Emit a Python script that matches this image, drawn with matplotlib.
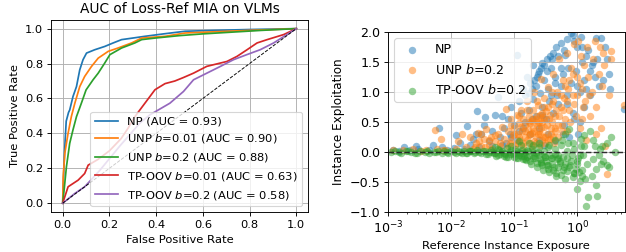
import matplotlib
matplotlib.use('Agg')
import matplotlib.pyplot as plt

"""
ROC curves of the Loss-Ref MIA (left) and exploitation vs exposure scatter (right)
Values are read off the original figure
"""

# ---- ROC curves (FPR, TPR) ----
np_fpr = [0.0, 0.003, 0.005, 0.01, 0.015, 0.025, 0.03, 0.044, 0.059, 0.073, 0.087, 0.102, 0.137,
          0.18, 0.216, 0.252, 0.352, 0.438, 0.524, 0.65, 0.8, 1.0]
np_tpr = [0.0, 0.12, 0.2, 0.35, 0.47, 0.52, 0.534, 0.611, 0.668, 0.764, 0.822, 0.86, 0.879,
          0.898, 0.918, 0.937, 0.956, 0.971, 0.985, 0.99, 0.995, 1.0]

unp01_fpr = [0.0, 0.002, 0.009, 0.023, 0.037, 0.052, 0.073, 0.094, 0.123, 0.152, 0.195, 0.237,
             0.295, 0.338, 0.438, 0.524, 0.65, 0.8, 1.0]
unp01_tpr = [0.0, 0.15, 0.285, 0.40, 0.496, 0.573, 0.668, 0.726, 0.783, 0.831, 0.87, 0.889,
             0.918, 0.946, 0.956, 0.975, 0.982, 0.99, 1.0]

unp02_fpr = [0.0, 0.006, 0.016, 0.03, 0.044, 0.059, 0.08, 0.1, 0.13, 0.152, 0.18, 0.202, 0.252,
             0.309, 0.338, 0.395, 0.5, 0.6, 0.7, 0.85, 1.0]
unp02_tpr = [0.0, 0.075, 0.209, 0.343, 0.42, 0.496, 0.573, 0.649, 0.707, 0.745, 0.803, 0.851,
             0.889, 0.918, 0.937, 0.946, 0.96, 0.97, 0.978, 0.99, 1.0]

oov01_fpr = [0.0, 0.023, 0.066, 0.094, 0.109, 0.15, 0.2, 0.25, 0.28, 0.309, 0.352, 0.395, 0.438,
             0.48, 0.517, 0.56, 0.617, 0.703, 0.746, 0.789, 0.832, 0.875, 0.946, 1.0]
oov01_tpr = [0.0, 0.094, 0.132, 0.17, 0.218, 0.25, 0.30, 0.37, 0.43, 0.496, 0.573, 0.65, 0.685,
             0.70, 0.72, 0.745, 0.784, 0.812, 0.841, 0.879, 0.918, 0.937, 0.966, 1.0]

oov02_fpr = [0.0, 0.052, 0.094, 0.16, 0.246, 0.331, 0.373, 0.459, 0.517, 0.56, 0.617, 0.674,
             0.731, 0.788, 0.845, 0.903, 0.96, 1.0]
oov02_tpr = [0.0, 0.056, 0.094, 0.19, 0.33, 0.46, 0.506, 0.573, 0.64, 0.707, 0.745, 0.783,
             0.822, 0.851, 0.879, 0.918, 0.966, 1.0]

roc_labels = ['NP (AUC = 0.93)', 'UNP $b$=0.01 (AUC = 0.90)', 'UNP $b$=0.2 (AUC = 0.88)',
              'TP-OOV $b$=0.01 (AUC = 0.63)', 'TP-OOV $b$=0.2 (AUC = 0.58)']
roc_colors = ['tab:blue', 'tab:orange', 'tab:green', 'tab:red', 'tab:purple']

# ---- exposure vs exploitation ----
np_x = [0.0012, 0.0015, 0.0018, 0.0022, 0.0028, 0.003, 0.0045, 0.0052, 0.0065, 0.0072, 0.0085,
        0.011, 0.012, 0.014, 0.016, 0.018, 0.02, 0.022, 0.026, 0.028, 0.03, 0.035, 0.04, 0.045,
        0.05, 0.055, 0.06, 0.065, 0.07, 0.075, 0.08, 0.085, 0.09, 0.1, 0.11, 0.11, 0.12, 0.12,
        0.13, 0.14, 0.15, 0.15, 0.16, 0.17, 0.18, 0.18, 0.2, 0.2, 0.22, 0.22, 0.24, 0.25, 0.26,
        0.28, 0.28, 0.3, 0.32, 0.33, 0.35, 0.36, 0.38, 0.4, 0.42, 0.45, 0.48, 0.5, 0.55, 0.6,
        0.62, 0.65, 0.7, 0.72, 0.8, 0.85, 0.9, 0.95, 1.0, 1.05, 1.1, 1.15, 1.2, 1.3, 1.4, 1.5,
        1.6, 1.8, 1.9, 2.0, 2.1, 2.4, 2.6, 3.0, 3.2, 3.3, 5.5, 1.3, 0.75, 0.3, 0.45, 0.6,
        0.17, 0.19, 0.21, 0.23, 0.25, 0.27, 0.3, 0.33, 0.37, 0.42,
        0.47, 0.55, 0.62, 0.7, 0.8, 0.9, 1.2, 1.4, 1.7, 2.2,
        2.8, 1.6, 1.0, 0.55, 0.45, 0.38, 0.28, 0.19, 0.14, 0.09,
        0.065, 0.045, 0.033, 0.025, 0.5, 0.7, 0.85, 1.1, 0.35, 0.25]
np_y = [0.03, 0.02, 0.08, 0.03, 0.10, 0.05, 0.03, 0.12, 0.40, 0.08, 0.04,
        0.06, 0.28, 0.15, 0.05, 0.44, 0.12, 0.22, 0.68, 0.08, 0.30, 0.58, 0.18, 0.35,
        0.62, 0.92, 0.25, 0.60, 0.40, 0.15, 0.55, 0.30, 0.75, 0.45, 1.62, 0.20, 0.85, 0.35,
        0.65, 1.05, 0.50, 0.95, 1.25, 0.70, 0.30, 1.15, 0.88, 1.45, 0.60, 1.10, 1.30, 0.40, 0.98,
        1.48, 0.75, 1.20, 0.55, 1.35, 1.05, 0.85, 1.40, 1.55, 0.65, 1.25, 0.95, 1.60, 1.10, 1.30,
        0.45, 1.62, 0.80, 1.40, 1.15, 1.95, 0.55, 1.35, 1.75, 0.30, 1.00, 1.92, 1.50, 1.20, 1.05, 1.70,
        1.35, 1.50, 1.25, 1.90, 1.55, 1.90, 1.20, 1.55, 1.30, 1.05, 0.72, 0.75, 0.25, 0.12, 0.18, 0.30,
        0.98, 1.05, 1.2, 1.25, 1.35, 1.4, 1.45, 1.55, 1.6, 1.65,
        1.75, 1.82, 1.7, 1.88, 1.98, 1.85, 1.75, 1.6, 1.45, 1.1,
        1.75, 0.95, 1.1, 1.4, 1.15, 0.95, 0.62, 0.55, 0.4, 0.25,
        0.12, 0.1, 0.45, 0.3, 0.8, 0.95, 0.65, 0.5, 0.3, 0.2]

unp_x = [0.0012, 0.0017, 0.0025, 0.0033, 0.004, 0.0055, 0.006, 0.007, 0.0075, 0.008, 0.012,
         0.013, 0.015, 0.017, 0.02, 0.022, 0.025, 0.027, 0.03, 0.033, 0.036, 0.04, 0.043, 0.045,
         0.05, 0.055, 0.06, 0.065, 0.07, 0.075, 0.08, 0.085, 0.09, 0.095, 0.1, 0.105, 0.11, 0.115,
         0.12, 0.125, 0.13, 0.135, 0.14, 0.15, 0.15, 0.16, 0.165, 0.17, 0.18, 0.18, 0.19, 0.2, 0.2,
         0.21, 0.22, 0.22, 0.23, 0.24, 0.25, 0.26, 0.27, 0.28, 0.28, 0.3, 0.3, 0.32, 0.33, 0.35,
         0.36, 0.38, 0.4, 0.42, 0.42, 0.45, 0.48, 0.5, 0.52, 0.55, 0.58, 0.6, 0.62, 0.65, 0.7,
         0.72, 0.75, 0.8, 0.85, 0.9, 0.95, 1.0, 1.05, 1.1, 1.15, 1.2, 1.3, 1.35, 1.4, 1.45, 1.5,
         1.6, 1.7, 1.9, 2.0, 2.2, 2.5, 2.8, 3.0, 3.2, 3.4, 5.6, 2.6, 1.25,
         0.14, 0.17, 0.21, 0.26, 0.31, 0.37, 0.44, 0.19, 0.24, 0.29,
         0.08, 0.09, 0.1, 0.11, 0.12, 0.13, 0.14, 0.15, 0.16, 0.17,
         0.18, 0.19, 0.2, 0.21, 0.22, 0.23, 0.24, 0.25, 0.26, 0.27,
         0.28, 0.29, 0.3, 0.31, 0.33, 0.34, 0.35, 0.37, 0.38, 0.4,
         0.42, 0.43, 0.45, 0.47, 0.5, 0.52, 0.55, 0.58, 0.6, 0.65,
         0.68, 0.7, 0.75, 0.78, 0.85, 0.9, 1.0, 1.1, 1.2, 0.06,
         0.05, 0.04, 0.035, 0.03, 0.028, 0.024, 0.12, 0.16, 0.09, 0.23,
         0.3, 0.4, 2.3, 2.7, 3.5, 1.8, 1.55, 2.0, 2.4]
unp_y = [0.04, 0.03, 0.05, 0.02, 0.04, 0.36, 0.05, 0.22, 0.03, 0.04, 0.05,
         0.18, 0.30, 0.08, 0.25, 0.05, 0.15, 0.32, 0.10, 0.22, 0.38, 0.12, 0.25, 0.05,
         0.18, 0.30, 0.10, 0.42, 0.22, 0.72, 0.35, 0.15, 0.55, 0.28, 0.40, 0.12, 0.62, 0.30,
         0.48, 0.20, 0.70, 0.35, 0.55, 0.25, 0.45, 0.85, 0.38, 0.60, 0.15, 0.48, 0.32, 0.70, 0.40,
         1.00, 0.55, 0.25, 0.45, 0.78, 0.35, 0.62, 1.22, 0.50, 0.20, 0.90, 0.42, 0.68, 0.30, 1.08,
         0.55, 0.40, 0.80, 1.30, 0.25, 0.60, 1.00, 0.45, 1.55, 0.75, 0.35, 1.20, 0.90, 0.55, 1.65,
         1.05, 0.70, 1.40, 0.95, 1.80, 0.60, 1.25, 1.85, 0.40, 1.60, 1.05, 1.45, 0.85, 0.20, 1.75, 1.25,
         0.60, 1.00, 1.85, 0.30, 1.30, 1.10, 0.10, -0.36, 0.95, 1.68, 0.78, 1.65, 0.75,
         0.15, 0.28, 0.18, 0.30, 0.25, 0.22, 0.35, 0.52, 0.48, 0.58,
         0.1, 0.2, 0.3, 0.15, 0.25, 0.42, 0.1, 0.35, 0.2, 0.5,
         0.3, 0.1, 0.55, 0.35, 0.15, 0.6, 0.3, 0.5, 0.12, 0.4,
         0.65, 0.25, 0.55, 0.15, 0.45, 0.75, 0.2, 0.62, 0.3, 0.5,
         0.85, 0.15, 0.4, 0.7, 0.25, 0.6, 0.95, 0.45, 0.7, 1.1,
         0.35, 0.85, 1.2, 0.5, 1.3, 0.8, 0.95, 1.15, 0.55, 0.15,
         0.28, 0.2, 0.08, 0.3, 0.18, 0.08, 0.6, 0.7, 0.45, 0.85,
         0.75, 1.0, 1.75, 1.45, 1.55, 1.55, 0.95, 0.75, 0.4]

oov_x = [0.0011, 0.0013, 0.0016, 0.0019, 0.0023, 0.0027, 0.0032, 0.0038, 0.0045, 0.0053, 0.0062,
         0.0072, 0.0085, 0.01, 0.012, 0.014, 0.016, 0.018, 0.02, 0.023, 0.026, 0.03, 0.034, 0.038,
         0.043, 0.048, 0.055, 0.06, 0.065, 0.07, 0.078, 0.085, 0.09, 0.1, 0.11, 0.12, 0.13, 0.14,
         0.15, 0.16, 0.17, 0.18, 0.19, 0.2, 0.22, 0.23, 0.25, 0.26, 0.28, 0.3, 0.32, 0.34, 0.36,
         0.38, 0.4, 0.42, 0.45, 0.48, 0.5, 0.55, 0.58, 0.6, 0.65, 0.7, 0.75, 0.8, 0.85, 0.9, 0.95,
         1.0, 1.05, 1.1, 1.15, 1.2, 1.25, 1.3, 1.4, 1.45, 1.5, 1.6, 1.7, 1.8, 2.0, 2.0, 2.1, 2.3,
         2.6, 3.0, 3.2, 3.4, 4.0, 1.15, 0.2, 0.12, 0.05,
         0.015, 0.021, 0.028, 0.036, 0.045, 0.052, 0.058, 0.068, 0.075, 0.082, 0.095, 0.105, 0.115,
         0.125, 0.135, 0.145, 0.155, 0.165, 0.21, 0.24, 0.27, 0.31, 0.35, 0.39, 0.44, 0.47, 0.53,
         0.62, 0.68, 0.78, 0.88, 0.98, 1.08, 1.35, 1.9, 2.4, 0.3, 0.5, 0.72,
         0.011, 0.013, 0.017, 0.019, 0.024, 0.032, 0.04, 0.05, 0.056, 0.063,
         0.072, 0.08, 0.088, 0.098, 0.108, 0.118, 0.128, 0.138, 0.148, 0.16,
         0.175, 0.185, 0.2, 0.215, 0.23, 0.25, 0.27, 0.29, 0.31, 0.33,
         0.36, 0.4, 0.43, 0.46, 0.5, 0.54, 0.6, 0.65, 0.7, 0.75,
         0.82, 0.9, 1.0, 1.1, 1.2, 0.25, 0.35, 0.45, 0.55, 0.65,
         0.85, 1.3, 1.8, 2.5, 3.0, 2.2, 0.0015, 0.0021, 0.0029, 0.0042,
         0.0058, 0.0078, 0.009]
oov_y = [0.0, 0.01, -0.01, 0.01, 0.0, -0.01, 0.01, 0.0, -0.01, 0.0, 0.01,
         -0.01, 0.0, 0.01, -0.01, 0.0, 0.02, -0.02, 0.01, -0.01, 0.03, -0.02, 0.02, -0.03,
         0.04, -0.02, 0.05, -0.04, 0.02, -0.06, 0.06, -0.03, 0.10, -0.08, 0.02, -0.05, 0.12, -0.12,
         0.0, -0.08, 0.15, -0.15, 0.05, -0.10, -0.02, -0.18, 0.08, -0.12, -0.22, 0.02, -0.15, -0.28, 0.12,
         -0.05, -0.20, -0.30, 0.05, -0.12, -0.25, -0.38, 0.20, -0.08, -0.20, -0.32, 0.38, -0.15, -0.42, 0.05, -0.28,
         -0.62, -0.10, -0.48, 0.22, -0.30, -0.05, 0.10, -0.90, -0.20, -0.75, 0.35, -0.40, -0.12, -0.28, -0.55, -0.73, 0.05,
         -0.15, 0.15, -0.25, 0.25, 0.0, 0.10, 0.12, 0.18, 0.08,
         -0.02, 0.02, 0.0, -0.04, 0.0, -0.06, 0.03, -0.02, -0.08, 0.0, -0.04, 0.05, -0.10,
         -0.02, 0.04, -0.06, -0.14, 0.02, -0.06, 0.0, -0.16, -0.08, -0.22, -0.10, -0.04, -0.35, -0.15,
         -0.25, 0.02, -0.22, -0.35, -0.15, -0.33, -0.45, 0.10, -0.20, -0.05, -0.10, 0.15,
         0.0, 0.02, -0.01, 0.01, 0.0, 0.01, 0.0, -0.01, -0.05, 0.0,
         -0.03, -0.08, 0.04, -0.02, -0.1, 0.0, -0.07, -0.02, -0.12, 0.03,
         -0.05, -0.2, 0.0, -0.1, -0.25, -0.05, -0.18, -0.3, -0.08, -0.22,
         -0.33, -0.1, -0.25, -0.4, -0.05, -0.18, -0.3, -0.45, -0.1, -0.25,
         -0.05, -0.35, -0.2, -0.05, -0.4, 0.15, 0.08, 0.2, 0.12, 0.3,
         0.15, 0.28, 0.2, 0.1, -0.22, -0.05, 0.0, 0.01, -0.01, 0.01,
         0.0, 0.01, -0.01]

scatter_labels = ['NP', 'UNP $b$=0.2', 'TP-OOV $b$=0.2']


def plot_roc(ax):
    """ Left panel: ROC curves with chance diagonal """
    curves = [(np_fpr, np_tpr), (unp01_fpr, unp01_tpr), (unp02_fpr, unp02_tpr),
              (oov01_fpr, oov01_tpr), (oov02_fpr, oov02_tpr)]
    for (fpr, tpr), lab, c in zip(curves, roc_labels, roc_colors):
        ax.plot(fpr, tpr, color=c, lw=1.5, label=lab)
    ax.plot([0, 1], [0, 1], 'k--', lw=0.8)
    ax.set_xticks([0, 0.2, 0.4, 0.6, 0.8, 1.0])
    ax.set_yticks([0, 0.2, 0.4, 0.6, 0.8, 1.0])
    ax.set(xlabel='False Positive Rate', ylabel='True Positive Rate',
           title='AUC of Loss-Ref MIA on VLMs')
    ax.grid(True)
    ax.legend(loc='lower right')


def plot_exposure(ax):
    """ Right panel: instance exploitation against reference exposure """
    # ticks and legend of the right panel are a bit larger than the left one
    fs = 11
    sets = [(np_x, np_y), (unp_x, unp_y), (oov_x, oov_y)]
    colors = ['tab:blue', 'tab:orange', 'tab:green']
    for (x, y), lab, c in zip(sets, scatter_labels, colors):
        ax.scatter(x, y, s=42, color=c, alpha=0.5, linewidths=0, label=lab)
    ax.axhline(0, color='k', ls='--', lw=1.3, alpha=0.75)
    ax.set_xscale('log')
    ax.set_xlim(1e-3, 5.7)
    ax.set_ylim(-1.0, 2.0)
    ax.set_xticks([1e-3, 1e-2, 1e-1, 1e0])
    ax.tick_params(labelsize=fs)
    ax.set_xlabel('Reference Instance Exposure', fontsize=10)
    ax.set_ylabel('Instance Exploitation', fontsize=10.5)
    ax.grid(True)
    ax.legend(loc='upper left', fontsize=fs)


def main():
    dpi = 82.5  # text in the original is a bit larger than 10 pt at 72 dpi
    fig = plt.figure(figsize=(626 / dpi, 252 / dpi), dpi=dpi)
    ax1 = fig.add_axes([0.0815, 0.159, 0.4105, 0.762])
    ax2 = fig.add_axes([0.620, 0.159, 0.378, 0.714])
    plot_roc(ax1)
    plot_exposure(ax2)
    fig.savefig('out.png', dpi=dpi)


if __name__ == "__main__":
    main()
